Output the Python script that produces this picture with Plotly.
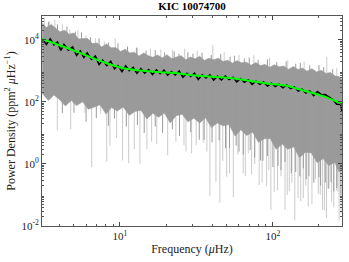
import numpy as np
import plotly.graph_objects as go

# ---- data (frequency in µHz, power density in ppm^2/µHz) ----
fit_freq = [3.09, 4.06, 5.48, 7.40, 10.0, 13.5, 18.2, 22.9, 30.9, 52.3, 95.5, 120, 162, 219, 282]
fit_power = [10700, 6600, 3800, 2100, 1290, 1030, 910, 850, 716, 590, 380, 340, 225, 145, 87]

smooth_freq = [3.1, 3.3, 3.5, 3.7, 3.9, 4.1, 4.3, 4.6, 4.9, 5.2, 5.5, 5.8, 6.1, 6.5, 6.9, 7.3, 7.7, 8.2,
               8.7, 9.2, 9.7, 10.3, 10.9, 11.5, 12.2, 12.9, 13.7, 14.5, 15.4, 16.3, 17.3, 18.3, 19.4,
               20.5, 21.7, 23.0, 24.4, 25.8, 27.4, 29.0, 30.7, 32.5, 34.5, 36.5, 38.7, 41.0, 43.4, 46.0,
               48.8, 51.7, 54.8, 58.0, 61.5, 65.1, 69.0, 73.1, 77.5, 82.1, 87.0, 92.2, 97.7, 103.5,
               109.7, 116.2, 123.1, 130.5, 138.2, 146.5, 155.2, 164.4, 174.2, 184.6, 195.6, 207.3,
               219.6, 232.7, 246.6, 261.3, 276.9, 283]
smooth_power = [10700, 7200, 10700, 6900, 8500, 4600, 7100, 4700, 5900, 3200, 4400, 2700, 3800, 2350,
                3000, 1600, 2200, 1480, 2040, 1170, 1480, 950, 1450, 1020, 1290, 840, 1170, 850, 1100,
                760, 1070, 810, 1050, 730, 950, 740, 990, 630, 840, 660, 840, 530, 750, 590, 740, 510,
                680, 510, 680, 530, 620, 445, 560, 430, 520, 370, 465, 370, 435, 325, 400, 315, 370,
                285, 350, 270, 305, 225, 255, 195, 226, 161, 214, 171, 172, 144, 119, 85, 83, 50]

upper_freq = [3.1, 3.3, 3.55, 3.8, 4.05, 4.35, 4.65, 5.0, 5.35, 5.75, 6.15, 6.6, 7.1, 7.6, 8.15, 8.75,
              9.4, 10.1, 10.8, 11.6, 12.4, 13.3, 14.3, 15.3, 16.4, 17.6, 18.9, 20.3, 21.8, 23.4, 25.1,
              26.9, 28.9, 31.0, 33.2, 35.6, 38.2, 41.0, 44.0, 47.2, 50.6, 54.3, 58.3, 62.5, 67.1, 72.0,
              77.2, 82.8, 88.9, 95.4, 102, 110, 118, 126, 136, 146, 156, 167, 180, 193, 207, 222, 238,
              255, 270, 283]
upper_power = [34700, 25100, 31600, 22900, 18200, 20400, 15100, 16600, 10700, 11000, 11000, 7600, 7900,
               5900, 7400, 5600, 5600, 4200, 5000, 3800, 4000, 3000, 3800, 3100, 2750, 3240, 2630, 3300,
               2450, 2800, 3100, 2290, 2800, 2450, 2950, 2160, 2570, 2290, 2570, 2000, 2190, 1780, 2140,
               1820, 1900, 1510, 1860, 1480, 1620, 1300, 1580, 1350, 1450, 1120, 1380, 1120, 1230, 980,
               1170, 930, 1050, 830, 890, 680, 660, 525]

lower_freq = [3.1, 3.4, 3.7, 4.0, 4.4, 4.8, 5.2, 5.7, 6.2, 6.8, 7.4, 8.1, 8.8, 9.6, 10.5, 11.5, 12.5,
              13.7, 15.0, 16.4, 17.9, 19.5, 21.3, 23.3, 25.5, 27.8, 30.4, 33.2, 36.3, 39.6, 43.3, 47.3,
              51.7, 56.5, 61.7, 67.4, 73.6, 80.4, 87.9, 96.0, 105, 115, 125, 137, 149, 163, 178, 195,
              213, 232, 254, 270, 283]
lower_power = [190, 112, 166, 123, 74, 112, 76, 102, 58, 69, 81, 41, 66, 51, 69, 37, 49, 54, 28, 43, 32,
               44, 21, 36, 40, 23, 30, 21, 31, 15, 21, 17, 18.6, 7.9, 12.6, 8.3, 10.7, 5.0, 6.5, 6.6,
               3.0, 4.4, 3.0, 3.6, 1.6, 2.4, 2.3, 1.1, 1.5, 0.89, 1.12, 0.56, 0.65]

dip_freq = [3.89, 4.76, 5.90, 6.53, 7.48, 8.19, 8.60, 9.51, 10.4, 11.4, 12.4, 13.5, 15.0, 16.1, 17.4,
            20.5, 23.2, 26.2, 27.0, 29.4, 35.0, 38.7, 42.4, 45.0, 49.8, 55.1, 64.0, 69.0, 72.6, 81.3,
            90.9, 97.0, 107, 120, 128, 139, 146, 158, 170, 198, 211, 224, 242, 261, 271,
            31.5, 37, 47, 52, 59, 66, 76, 85, 94, 102, 113, 124, 133, 152, 164, 180, 190, 204, 217,
            233, 250, 266, 279]
dip_power = [12, 13, 45, 0.8, 41, 1.2, 3.8, 6.9, 1.3, 1.05, 3.0, 1.0, 3.0, 5.2, 4.4, 1.9, 5.2, 4.1,
             2.5, 2.2, 4.8, 0.093, 0.27, 0.056, 0.39, 0.085, 0.50, 2.2, 0.45, 0.21, 0.19, 0.033, 0.14,
             0.033, 0.13, 0.015, 0.079, 0.079, 0.042, 0.11, 0.033, 0.018, 0.060, 0.14, 0.015,
             4, 2.5, 1.26, 0.5, 2, 0.4, 1.0, 0.25, 0.63, 0.126, 0.4, 0.1, 0.25, 0.063, 0.2, 0.05, 0.32,
             0.1, 0.032, 0.16, 0.04, 0.126, 0.025]

dark_dip_freq = [33, 40, 52, 60, 76, 86, 100, 113, 132, 150, 165, 185, 205, 230, 250, 278,
                 4.2, 5.0, 6.0, 7.0, 8.4, 9.2, 11.0, 13.0, 14.4, 17.0, 19.0, 22.0, 24.5, 29.0, 35.5,
                 44.5, 49.0, 57.5, 64.0, 71.0, 83.0, 92.0, 108, 120, 141, 158, 172, 200, 220, 240, 262]
dark_dip_power = [6, 5, 3.2, 2.5, 1.6, 1.26, 0.8, 0.63, 0.5, 0.4, 0.32, 0.25, 0.2, 0.16, 0.13, 0.1,
                  44, 45, 23, 30, 17, 29, 16, 18, 10, 16, 10, 13, 8, 10.5, 6, 5.8, 3.2, 3.9, 2.0, 2.8,
                  1.3, 1.8, 0.85, 1.15, 0.55, 0.72, 0.4, 0.37, 0.25, 0.26, 0.17]

dark_peak_freq = [3.4, 3.9, 4.5, 5.1, 5.6, 6.4, 7.3, 8.4, 9.7, 11.2, 12.8, 14.8, 17.0, 19.6, 22.6, 24.3,
                  27.8, 30.0, 34.4, 39.5, 45.6, 52.5, 56.0, 65.0, 70.0, 80.0, 92.0, 106, 122, 141, 151,
                  174, 200, 215, 246]
dark_peak_power = [38000, 31600, 26900, 18600, 17400, 12300, 11200, 8300, 7800, 5900, 5600, 4500, 4700,
                   3940, 4300, 3550, 4000, 3600, 3900, 3270, 3500, 2880, 3100, 2500, 2720, 2260, 2340,
                   1950, 2040, 1700, 1840, 1510, 1550, 1320, 1140]

peak_freq = [3.2, 3.45, 3.75, 4.2, 4.7, 5.3, 6.0, 6.9, 7.9, 9.3, 11.2, 13.0, 15.8, 18.5, 22.0, 26.5,
             32.0, 40.5, 48.0, 60.0, 75.0, 95.0, 125, 160, 225, 262]
peak_power = [52000, 40000, 45000, 32000, 22000, 20000, 14000, 11200, 8900, 11200, 6300, 5600, 5200,
              5000, 4800, 5200, 4500, 6900, 4000, 3300, 3200, 2600, 2200, 2000, 2800, 1260]

x_tickvals = [10, 100]
x_ticktext = ["10<sup>1</sup>", "10<sup>2</sup>"]
y_tickvals = [1e-2, 1e0, 1e2, 1e4]
y_ticktext = ["10<sup>-2</sup>", "10<sup>0</sup>", "10<sup>2</sup>", "10<sup>4</sup>"]

title_text = "KIC 10074700"
x_label = "Frequency (<i>μ</i>Hz)"
y_label = "Power Density (ppm<sup>2</sup> <i>μ</i>Hz<sup>−1</sup>)"


def interp_log(f, xs, ys):
    return float(10 ** np.interp(np.log10(f), np.log10(xs), np.log10(ys)))


# light-gray spikes (down dips and up peaks), drawn behind the dense band
sx, sy = [], []
for f, p in zip(dip_freq, dip_power):
    sx += [f, f, None]
    sy += [p, interp_log(f, fit_freq, fit_power), None]
for f, p in zip(peak_freq, peak_power):
    sx += [f, f, None]
    sy += [interp_log(f, fit_freq, fit_power), p, None]

# dark-gray spikes at the band edges
dx, dy = [], []
for f, p in zip(dark_dip_freq, dark_dip_power):
    dx += [f, f, None]
    dy += [p, interp_log(f, fit_freq, fit_power), None]
for f, p in zip(dark_peak_freq, dark_peak_power):
    dx += [f, f, None]
    dy += [interp_log(f, fit_freq, fit_power), p, None]

band_x = list(upper_freq) + list(lower_freq[::-1])
band_y = list(upper_power) + list(lower_power[::-1])

light = "#cbcbcb"
dark = "#9a9a9a"

fig = go.Figure()
fig.add_trace(go.Scatter(x=sx, y=sy, mode="lines", line=dict(color=light, width=1),
                         hoverinfo="skip", showlegend=False))
fig.add_trace(go.Scatter(x=band_x, y=band_y, mode="lines", fill="toself", fillcolor=dark,
                         line=dict(color=dark, width=0.6), hoverinfo="skip", showlegend=False))
fig.add_trace(go.Scatter(x=dx, y=dy, mode="lines", line=dict(color=dark, width=1),
                         hoverinfo="skip", showlegend=False))
fig.add_trace(go.Scatter(x=smooth_freq, y=smooth_power, mode="lines",
                         line=dict(color="black", width=1.6), showlegend=False))
fig.add_trace(go.Scatter(x=fit_freq, y=fit_power, mode="lines",
                         line=dict(color="#00ff00", width=2, shape="spline"), showlegend=False))

font_family = "Liberation Serif, Times New Roman, serif"

x_minor = [m * 10 ** e for e in range(0, 3) for m in range(2, 10)]
y_minor = [m * 10.0 ** e for e in range(-2, 5) for m in range(2, 10)]

fig.update_layout(
    width=349, height=262,
    margin=dict(l=42, r=7, t=16, b=36),
    paper_bgcolor="white", plot_bgcolor="white",
    font=dict(family=font_family, size=11, color="#222"),
    title=dict(text="<b>" + title_text + "</b>", x=0.55, xanchor="center", y=0.99, yanchor="top",
               font=dict(family=font_family, size=11, color="black")),
    showlegend=False,
)
fig.update_xaxes(
    type="log", range=[np.log10(3.09), np.log10(283)], automargin=False,
    tickmode="array", tickvals=x_tickvals, ticktext=x_ticktext,
    ticks="inside", ticklen=4, tickcolor="#444", showline=True, linecolor="#555", linewidth=1,
    mirror="ticks", showgrid=False, zeroline=False,
    tickfont=dict(family=font_family, size=11, color="#222"),
    minor=dict(tickmode="array", tickvals=x_minor, ticks="inside", ticklen=2, tickcolor="#555"),
    title=dict(text=x_label, standoff=3, font=dict(family=font_family, size=12, color="#222")),
)
fig.update_yaxes(
    type="log", range=[-2, 4.77], automargin=False,
    tickmode="array", tickvals=y_tickvals, ticktext=y_ticktext,
    ticks="inside", ticklen=4, tickcolor="#444", showline=True, linecolor="#555", linewidth=1,
    mirror="ticks", showgrid=False, zeroline=False,
    tickfont=dict(family=font_family, size=11, color="#222"),
    minor=dict(tickmode="array", tickvals=y_minor, ticks="inside", ticklen=2, tickcolor="#555"),
    title=dict(text=y_label, standoff=3, font=dict(family=font_family, size=12, color="#222")),
)

fig.write_html("out.html", config={"displayModeBar": False},
               post_script="document.body.style.margin='0';")
